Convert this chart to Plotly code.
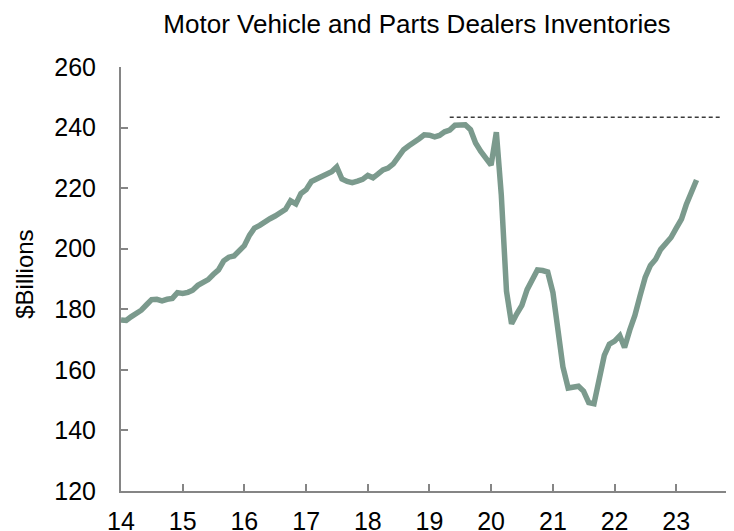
import pandas as pd
import plotly.graph_objects as go

# Monthly inventories, $ billions, Jan 2014 - May 2023
start_month = "2014-01-01"
inventories = [
    # 2014
    176.5, 176.3, 177.5, 178.6, 179.7, 181.5, 183.2, 183.3, 182.8, 183.3, 183.6, 185.5,
    # 2015
    185.2, 185.6, 186.3, 187.9, 188.8, 189.8, 191.5, 193.0, 196.0, 197.2, 197.6, 199.3,
    # 2016
    201.0, 204.5, 206.8, 207.7, 209.0, 209.9, 210.8, 212.0, 213.0, 215.8, 214.8, 218.2,
    # 2017
    219.5, 222.2, 222.9, 223.6, 224.8, 225.4, 227.0, 223.0, 222.2, 221.8, 222.3, 222.9,
    # 2018
    224.2, 223.4, 224.6, 226.0, 226.6, 228.0, 230.3, 232.7, 234.0, 235.0, 236.3, 237.6,
    # 2019
    237.5, 236.9, 237.4, 238.6, 239.2, 240.8, 240.7, 240.9, 239.3, 234.9, 232.1, 229.8,
    # 2020
    227.6, 238.5, 218.0, 186.0, 175.2, 178.5, 181.3, 186.5, 190.0, 193.0, 192.8, 192.3,
    # 2021
    185.5, 172.0, 161.0, 154.0, 154.2, 154.6, 153.0, 149.2, 148.8, 156.0, 164.8, 168.5,
    # 2022
    169.5, 171.3, 167.4, 173.2, 178.0, 184.5, 190.5, 194.5, 196.5, 199.8, 202.0, 203.7,
    # 2023
    206.8, 209.8, 214.5, 218.8, 222.7,
]

# Pre-pandemic peak reference line
peak_level = [243.4, 243.4]
peak_dates = ["2019-05-01", "2023-09-15"]

# Axis ticks
year_ticks = [f"{y}-01-01" for y in range(2014, 2024)]
year_labels = ["14", "15", "16", "17", "18", "19", "20", "21", "22", "23"]
y_ticks = [120, 140, 160, 180, 200, 220, 240, 260]

dates = pd.date_range(start_month, periods=len(inventories), freq="MS")

FONT = "Liberation Sans, Arial, sans-serif"
AXIS_GRAY = "#858585"

# The page body adds an 8px offset; figure is sized to fill the rest of the window
W, H = 726, 523

fig = go.Figure()
fig.add_trace(go.Scatter(
    x=peak_dates, y=peak_level, mode="lines",
    line=dict(color="#3a3a3a", width=1.3, dash="4px,3px"),
    hoverinfo="skip", showlegend=False,
))
fig.add_trace(go.Scatter(
    x=dates, y=inventories, mode="lines",
    line=dict(color="#7b9a8d", width=5.5, shape="linear"),
    showlegend=False,
))

fig.update_layout(
    width=W, height=H,
    margin=dict(l=113, r=2, t=59, b=40),
    paper_bgcolor="white", plot_bgcolor="white",
    font=dict(family=FONT, size=25, color="black"),
    title=dict(
        text="Motor Vehicle and Parts Dealers Inventories",
        font=dict(family=FONT, size=26, color="black"),
        x=409 / W, xref="container", xanchor="center",
        y=1 - 16 / H, yref="container", yanchor="middle",
    ),
    xaxis=dict(
        type="date",
        range=["2014-01-01", "2023-11-27"],
        tickvals=year_ticks, ticktext=year_labels,
        ticks="inside", ticklen=7, tickwidth=1.5, tickcolor=AXIS_GRAY,
        showline=True, linecolor=AXIS_GRAY, linewidth=2,
        showgrid=False, zeroline=False, automargin=False,
        ticklabelstandoff=7,
        tickfont=dict(family=FONT, size=25, color="black"),
    ),
    yaxis=dict(
        range=[120, 260],
        tickvals=y_ticks,
        ticks="inside", ticklen=7, tickwidth=1.5, tickcolor=AXIS_GRAY,
        showline=True, linecolor=AXIS_GRAY, linewidth=2,
        showgrid=False, zeroline=False, automargin=False,
        ticklabelstandoff=18,
        tickfont=dict(family=FONT, size=25, color="black"),
    ),
    annotations=[dict(
        text="$Billions", textangle=-90,
        xref="paper", yref="paper", x=(25 - 121) / 611, y=0.51,
        xanchor="center", yanchor="middle", showarrow=False,
        font=dict(family=FONT, size=24, color="black"),
    )],
)

fig.write_html("out.html")
